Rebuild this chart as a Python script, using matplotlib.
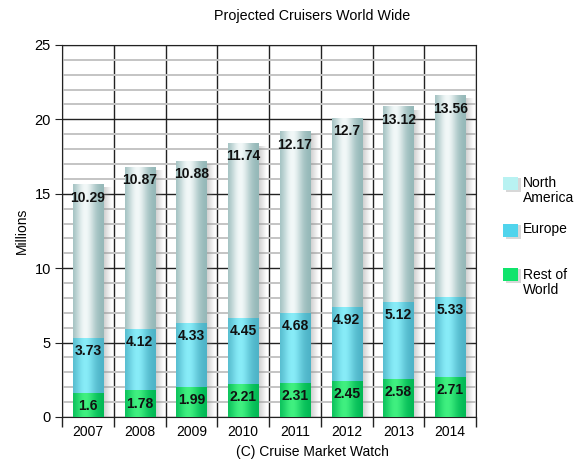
import matplotlib
matplotlib.use("Agg")
import matplotlib.pyplot as plt
import numpy as np
from matplotlib.patches import Rectangle

plt.rcParams['font.family'] = ['Liberation Sans', 'DejaVu Sans']

years = ['2007', '2008', '2009', '2010', '2011', '2012', '2013', '2014']
rest_of_world = [1.6, 1.78, 1.99, 2.21, 2.31, 2.45, 2.58, 2.71]
europe = [3.73, 4.12, 4.33, 4.45, 4.68, 4.92, 5.12, 5.33]
north_america = [10.29, 10.87, 10.88, 11.74, 12.17, 12.7, 13.12, 13.56]

series = [
    ('Rest of\nWorld', rest_of_world, '#00b854', '#40f080'),
    ('Europe', europe, '#4cb2c6', '#88ecf8'),
    ('North\nAmerica', north_america, '#92b6b6', '#f2f8f8'),
]

bar_w = 0.58


def gradient(edge, center, n=64):
    e = np.array(matplotlib.colors.to_rgb(edge))
    c = np.array(matplotlib.colors.to_rgb(center))
    t = np.linspace(0, 1, n)
    prof = np.exp(-((t - 0.4) / 0.32) ** 2)
    return (e[None, :] + (c - e)[None, :] * prof[:, None])[None, :, :]


fig = plt.figure(figsize=(5.84, 4.63), dpi=100)
ax = fig.add_axes([0.1062, 0.0994, 0.709, 0.8035])

x = np.arange(len(years))
bottoms = np.zeros(len(years))

# shadows right of the bars
shadow = np.zeros((1, 32, 4))
shadow[..., :3] = 0.55
shadow[..., 3] = np.linspace(0.45, 0.0, 32)
totals = np.array(rest_of_world) + np.array(europe) + np.array(north_america)
for xi, tot in zip(x, totals):
    ax.imshow(shadow, extent=[xi + bar_w / 2, xi + bar_w / 2 + 0.16, 0, tot - 0.2],
              aspect='auto', zorder=2, interpolation='bilinear')

for name, vals, edge, center in series:
    img = gradient(edge, center)
    for xi, b, v in zip(x, bottoms, vals):
        ax.imshow(img, extent=[xi - bar_w / 2, xi + bar_w / 2, b, b + v],
                  aspect='auto', zorder=3, interpolation='bilinear')
        ax.annotate(f'{v:g}', (xi, b + v), xytext=(0, -9.4), textcoords='offset points',
                    ha='center', va='center', fontsize=10, fontweight='bold',
                    color='#111111', zorder=5)
    bottoms = bottoms + np.array(vals)

ax.set_xlim(-0.5, len(years) - 0.5)
ax.set_ylim(0, 25)

ax.set_xticks(x)
ax.set_xticklabels(years)
ax.set_xticks(np.arange(-0.5, len(years)), minor=True)
ax.tick_params(axis='x', which='major', length=0, labelsize=10, pad=6)
ax.tick_params(axis='x', which='minor', length=7, width=1, color='#222222')

ax.set_yticks(np.arange(0, 26, 5))
ax.set_yticks(np.arange(0, 26, 1), minor=True)
ax.tick_params(axis='y', which='major', length=5, labelsize=10.5, color='#222222', pad=3)
ax.tick_params(axis='y', which='minor', length=0)

ax.grid(axis='y', which='minor', color='#c4c4c4', linewidth=1.4, zorder=0)
ax.grid(axis='y', which='major', color='#222222', linewidth=1.0, zorder=1)
ax.grid(axis='x', which='minor', color='#222222', linewidth=1.0, zorder=1)
ax.set_axisbelow(True)
for s in ax.spines.values():
    s.set_color('#222222')

ax.set_ylabel('Millions', fontsize=10)
fig.text(0.535, 0.024, '(C) Cruise Market Watch', ha='center', va='center', fontsize=10)
fig.text(0.534, 0.965, 'Projected Cruisers World Wide', ha='center', va='center', fontsize=10.3)

# legend
legend_rows = [('North\nAmerica', '#b8f2f2', 0.604, 0.5886),
               ('Europe', '#50d4ec', 0.502, 0.505),
               ('Rest of\nWorld', '#10e46c', 0.407, 0.390)]
for label, col, yc, yt in legend_rows:
    fig.add_artist(Rectangle((0.866, yc - 0.018), 0.026, 0.029, transform=fig.transFigure,
                             facecolor='#d8d8d8', edgecolor='none'))
    fig.add_artist(Rectangle((0.861, yc - 0.0145), 0.026, 0.029, transform=fig.transFigure,
                             facecolor=col, edgecolor='none'))
    fig.text(0.896, yt, label, ha='left', va='center', fontsize=10, linespacing=1.15)

fig.savefig('out.png', dpi=100)
